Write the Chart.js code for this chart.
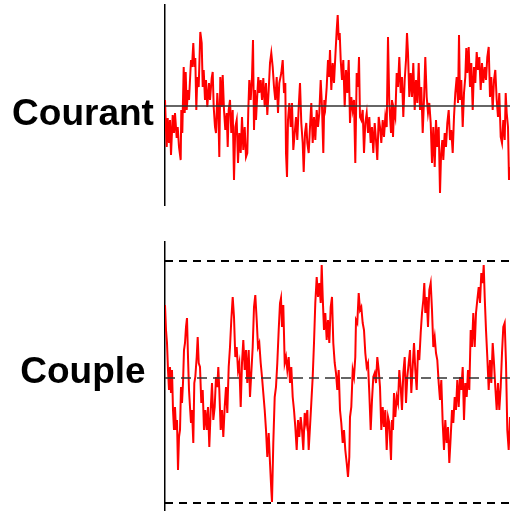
<!DOCTYPE html>
<html>
<head>
<meta charset="utf-8">
<script src="https://cdn.jsdelivr.net/npm/chart.js@4/dist/chart.umd.min.js"></script>
<style>
  html, body { margin: 0; padding: 0; background: #fff; }
  body { width: 510px; height: 511px; position: relative; overflow: hidden; }
  .wrap { position: absolute; left: 0; width: 510px; }
  .lbl { position: absolute; width: 166px; left: 0; text-align: center;
         font-family: "Liberation Sans", Arial, sans-serif; font-weight: bold;
         font-size: 37px; line-height: 37px; color: #000; }
</style>
</head>
<body>
<div class="wrap" style="top:0;height:215px"><canvas id="c1" width="510" height="215"></canvas></div>
<div class="wrap" style="top:230px;height:281px"><canvas id="c2" width="510" height="281"></canvas></div>
<div class="lbl" style="top:94px">Courant</div>
<div class="lbl" style="top:352px">Couple</div>
<script>
// time in ms
const tCourant = [0,10,17,27,40,50,60,77,90,100,117,127,140,157,163,173,187,197,207,217,230,240,250,260,270,283,293,303,313,323,337,353,367,377,387,400,410,423,440,450,467,477,487,500,510,523,533,543,553,567,577,590,603,617,627,637,650,663,677,690,703,717,730,743,757,770,783,797,810,823,833,843,857,870,880,890,900,910,920,933,943,957,970,983,997,1010,1023,1037,1050,1063,1077,1090,1103,1117,1130,1143,
1163,1177,1190,1203,1210,1220,1230,1243,1257,1270,1283,1297,1310,1323,1337,1350,1363,1377,1387,1400,1413,1423,1437,1450,1463,1477,1490,1503,1517,1530,1543,1557,1570,1583,1593,1603,1617,1630,1640,1650,1663,1677,1690,1703,1717,1727,1737,1747,1757,1770,1783,1797,1810,1823,1837,1850,1863,1877,1890,1903,1917,1930,1940,1950,1963,1977,1990,2003,2017,2030,2043,2057,2070,2083,2097,2110,2123,2137,2150,2163,2177,2190,2203,2217,2230,2243,
2260,2270,2280,2290,2303,2317,2330,2343,2357,2370,2383,2397,2410,2420,2430,2443,2457,2470,2483,2497,2510,2523,2537,2550,2563,2577,2590,2603,2617,2630,2643,2657,2670,2683,2697,2710,2723,2737,2750,2760,2773,2783,2797,2810,2823,2837,2850,2863,2877,2890,2903,2917,2930,2940,2950,2963,2977,2990,3003,3013,3023,3037,3050,3063,3077,3090,3103,3117,3130,3143,3157,3170,3183,3197,3210,3223,3237,3250,3263,3277,3290,3303,3317,3330,3343,3357,3370,3383,3397,3407,3417,3430,3440,3450];
// current (A)
const courant = [0.30,-1.20,-2.05,-0.60,-1.85,-0.70,-2.45,-0.45,-1.35,-0.35,-1.60,-1.05,-2.05,-2.70,-0.20,-1.35,1.95,-0.35,1.70,-0.20,0.80,0.30,1.30,2.30,1.95,3.15,1.95,2.40,-0.20,1.45,0.95,3.70,3.15,0.95,1.80,0.30,1.30,-0.05,1.15,0.30,1.40,1.70,-0.05,-1.05,-1.35,0.65,-0.20,-2.55,1.45,-0.05,1.55,-0.20,-1.20,-0.35,-2.05,-0.20,0.30,-1.35,-0.20,-3.70,-1.05,-0.70,-2.85,-1.35,-2.35,-0.55,-2.20,-1.05,-2.55,-2.35,-0.20,1.30,0.30,1.45,3.30,-1.20,0.80,-0.70,0.30,1.45,0.65,1.30,0.30,1.40,-0.05,1.15,-0.45,0.80,2.15,2.65,1.95,0.95,0.30,1.45,-0.35,1.15,
1.65,2.30,0.65,1.15,-2.35,-3.55,-0.70,0.15,-1.05,0.15,-2.20,-1.35,-0.55,-1.70,-0.05,1.15,-0.85,-1.85,-3.30,-1.35,-0.85,-1.85,-2.35,-1.05,0.15,-1.85,-0.55,-1.70,-0.20,-1.05,-0.35,1.30,-0.05,-2.35,0.30,-0.05,0.95,2.30,1.45,2.80,0.80,2.15,1.15,2.45,3.80,4.55,3.30,3.65,2.30,1.30,2.30,-0.05,1.80,0.65,2.30,-0.85,0.45,-0.20,0.30,-2.85,1.65,0.95,2.45,-0.55,-0.70,-0.20,-2.35,-0.85,-0.35,-1.35,-0.55,-1.85,-1.05,-2.35,-0.85,-1.70,-2.70,-0.55,-1.05,-1.85,-0.70,-1.55,-0.55,-1.05,3.45,0.15,
-1.35,0.30,-1.55,-0.20,-0.55,1.65,0.95,2.45,0.65,1.45,-0.55,1.30,2.30,3.65,2.65,0.45,1.65,0.45,2.15,-0.20,1.30,0.15,2.15,-0.20,0.95,-1.35,0.30,2.45,0.45,-0.35,0.15,-0.85,-2.85,-1.05,-3.05,-0.70,-2.05,-1.05,-4.35,-2.55,-1.70,-2.70,-1.35,-2.05,-0.85,-0.20,-1.70,-1.20,-2.35,-0.55,0.65,1.45,0.15,3.55,0.30,1.30,-1.05,0.65,1.45,2.90,1.65,2.95,0.95,2.15,-0.20,1.95,1.15,2.70,1.80,2.45,0.80,2.15,1.15,1.95,1.30,2.45,2.95,0.45,1.45,-0.20,1.30,1.80,0.30,-0.55,0.65,-1.55,-1.85,-0.70,-1.70,0.65,-0.35,-1.05,-3.70,-3.05];

const tCouple = [0,10,20,30,40,50,60,70,80,90,100,110,120,130,140,150,160,170,180,190,200,210,220,230,240,250,260,270,283,293,303,317,327,337,350,363,377,390,403,417,430,443,457,470,483,497,510,523,533,543,557,570,583,597,610,623,637,650,663,677,690,703,717,730,743,757,770,783,797,810,823,837,850,863,877,890,903,917,930,943,957,970,983,997,1010,1023,1037,1050,1063,1070,
1083,1097,1110,1123,1137,1150,1160,1170,1183,1197,1210,1223,1237,1250,1263,1277,1290,1303,1317,1330,1343,1357,1370,1383,1397,1410,1423,1437,1450,1463,1477,1490,1503,1517,1530,1543,1557,1567,1577,1590,1603,1617,1630,1643,1657,1670,1683,1697,1710,1723,1737,1750,1763,1777,1790,1803,1817,1830,1843,1850,1863,1877,1890,1903,1910,1923,1937,1950,1963,1977,1990,2003,2017,2030,2043,2057,2070,2083,2097,2110,2123,2137,2150,2163,2177,2190,2203,2217,2230,2243,
2260,2270,2280,2290,2303,2317,2330,2343,2357,2370,2383,2397,2410,2423,2437,2450,2463,2477,2490,2503,2517,2530,2543,2557,2570,2583,2593,2603,2617,2630,2643,2657,2670,2683,2697,2710,2723,2737,2750,2763,2777,2790,2803,2817,2830,2843,2857,2870,2883,2897,2910,2923,2937,2950,2963,2977,2990,3003,3017,3030,3043,3057,3070,3083,3097,3110,3123,3137,3150,3163,3177,3187,3197,3210,3223,3237,3250,3263,3277,3290,3303,3317,3330,3343,3357,3370,3383,3397,3410,3423,3437,3450];
// torque (N·m)
const couple = [0.73,0.48,0.35,0.08,-0.12,0.11,-0.15,0.08,-0.32,-0.52,-0.29,-0.52,-0.42,-0.92,-0.59,-0.52,-0.09,-0.25,-0.05,0.28,0.35,0.51,0.60,0.21,-0.12,-0.29,-0.45,-0.32,-0.65,-0.05,0.01,0.21,0.41,0.15,0.11,-0.25,-0.12,-0.52,-0.32,-0.52,-0.29,-0.69,-0.32,-0.05,-0.42,-0.29,0.01,-0.09,0.11,-0.12,-0.52,-0.32,-0.59,-0.29,-0.09,-0.35,0.11,0.31,0.58,0.81,0.61,0.21,0.31,0.08,0.15,-0.29,0.15,0.38,0.08,0.28,-0.05,0.28,-0.19,0.05,0.31,0.71,0.83,0.58,0.31,0.35,0.15,0.01,-0.15,-0.32,-0.52,-0.79,-0.55,-0.85,-1.12,-1.24,
-0.65,-0.19,-0.09,0.15,0.48,0.75,0.80,0.51,0.73,0.15,0.21,0.08,0.21,-0.05,0.11,-0.19,-0.32,-0.49,-0.72,-0.42,-0.59,-0.39,-0.52,-0.72,-0.35,-0.45,-0.32,-0.72,-0.49,-0.25,0.01,0.35,0.75,1.01,0.81,0.95,0.75,1.13,0.81,0.48,0.65,0.38,0.58,0.35,0.71,0.81,0.35,0.15,0.05,-0.12,0.08,-0.32,-0.45,-0.65,-0.52,-0.72,-0.85,-0.99,-0.79,-0.39,-0.29,0.08,0.01,0.21,0.58,0.55,0.85,0.68,0.71,0.55,0.48,0.25,0.11,0.15,-0.15,-0.52,-0.22,0.01,0.05,-0.05,0.21,0.08,-0.09,-0.52,-0.29,-0.49,-0.32,-0.72,-0.39,-0.45,
-0.82,-0.42,-0.52,-0.15,-0.39,-0.19,-0.25,0.08,-0.09,-0.32,0.05,0.21,-0.25,0.01,0.15,0.28,-0.15,0.11,0.35,0.08,-0.12,0.28,0.18,0.45,0.65,0.78,0.95,0.65,0.81,0.51,0.88,0.95,0.68,0.31,0.41,0.25,0.18,-0.05,-0.22,-0.02,-0.45,-0.72,-0.42,-0.65,-0.49,-0.85,-0.59,-0.32,-0.45,-0.19,-0.32,-0.02,-0.29,0.01,-0.12,0.11,-0.42,-0.05,-0.19,0.08,-0.12,0.48,0.31,0.65,0.31,0.65,0.78,0.91,0.75,1.05,0.95,1.13,0.81,0.48,0.21,-0.12,0.18,-0.05,0.35,0.15,-0.09,-0.32,-0.05,-0.32,-0.09,0.25,0.51,0.55,0.15,-0.52,-0.72,-0.39];

const courantRef = 0;          // reference level (solid)
const coupleLimits = [1.17, -1.25]; // limits (dashed)
const coupleRef = 0;           // mean level (dashed)
const tStart = 0, tEnd = 3450;

function pts(t, v) { return t.map((x, i) => ({ x: x, y: v[i] })); }
function hline(val) { return [{ x: tStart, y: val }, { x: tEnd, y: val }]; }

const redLine = { borderColor: '#ff0000', borderWidth: 2, pointRadius: 0, tension: 0, fill: false };

function opts(ymin, ymax, padTop, padBottom) {
  return {
    responsive: false, animation: false, events: [],
    layout: { padding: { left: 165, right: 0, top: padTop, bottom: padBottom } },
    plugins: { legend: { display: false }, tooltip: { enabled: false } },
    scales: {
      x: { type: 'linear', min: tStart, max: tEnd, display: false },
      y: { type: 'linear', min: ymin, max: ymax, display: true,
           ticks: { display: false },
           grid: { display: false, drawTicks: false },
           border: { display: true, color: '#000', width: 1.5 } }
    }
  };
}

new Chart(document.getElementById('c1'), {
  type: 'line',
  data: { datasets: [
    Object.assign({ data: pts(tCourant, courant), order: 1 }, redLine),
    { data: hline(courantRef), borderColor: '#333', borderWidth: 1.3, pointRadius: 0, order: 0 }
  ] },
  options: opts(-4.95, 5.05, 5, 10)
});

new Chart(document.getElementById('c2'), {
  type: 'line',
  data: { datasets: [
    Object.assign({ data: pts(tCouple, couple), order: 1 }, redLine),
    { data: hline(coupleRef), borderColor: '#333', borderWidth: 1.3, borderDash: [10, 6], pointRadius: 0, order: 0 },
    { data: hline(coupleLimits[0]), borderColor: '#000', borderWidth: 2, borderDash: [8, 6], pointRadius: 0, order: 0 },
    { data: hline(coupleLimits[1]), borderColor: '#000', borderWidth: 2, borderDash: [8, 6], pointRadius: 0, order: 0 }
  ] },
  options: opts(-1.33, 1.36, 12, 0)
});
</script>
</body>
</html>
